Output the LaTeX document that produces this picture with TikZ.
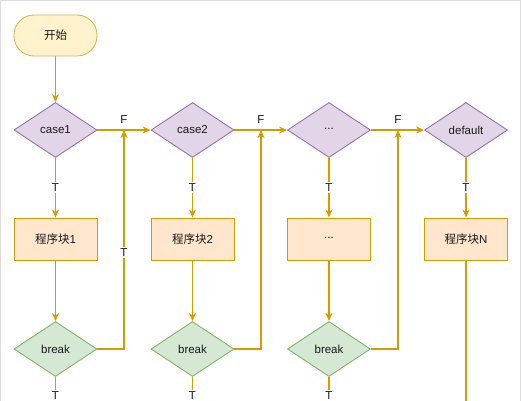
\documentclass[tikz,border=0pt]{standalone}
\usepackage{fontspec}
\setmainfont{Liberation Sans}
\newfontfamily\cjk{Noto Sans CJK SC}
\usetikzlibrary{shapes.geometric,arrows.meta}
\definecolor{edge}{HTML}{D79B00}
\definecolor{startfill}{HTML}{FFF2CC}
\definecolor{startdraw}{HTML}{D6B656}
\definecolor{casefill}{HTML}{E1D5E7}
\definecolor{casedraw}{HTML}{9673A6}
\definecolor{blockfill}{HTML}{FFE6CC}
\definecolor{blockdraw}{HTML}{D79B00}
\definecolor{brkfill}{HTML}{D5E8D4}
\definecolor{brkdraw}{HTML}{82B366}
\definecolor{frame}{HTML}{DDDDDD}
\tikzset{
  every node/.style={font=\fontsize{11.5pt}{13pt}\selectfont, text=black!90},
  startbox/.style={draw=startdraw, fill=startfill, line width=0.9pt, rounded corners=20pt, minimum width=83pt, minimum height=41pt, inner sep=0pt},
  casebox/.style={draw=casedraw, fill=casefill, line width=0.9pt, diamond, aspect=1.51, minimum width=83pt, minimum height=55pt, inner sep=0pt},
  brkbox/.style={draw=brkdraw, fill=brkfill, line width=0.9pt, diamond, aspect=1.51, minimum width=83pt, minimum height=55pt, inner sep=0pt},
  blockbox/.style={draw=blockdraw, fill=blockfill, line width=0.9pt, rectangle, minimum width=83pt, minimum height=42pt, inner sep=0pt},
  conn/.style={draw=edge, line width=1.4pt, -{Stealth[length=8pt,width=7pt,inset=2.5pt]}},
  plain/.style={draw=edge, line width=1.4pt},
  lbl/.style={fill=white, inner sep=1.5pt},
}
\begin{document}
\begin{tikzpicture}[x=1pt,y=-1pt]
\useasboundingbox (0,0) rectangle (521,400);
\draw[frame, line width=1pt] (0.5,410) -- (0.5,0.5) -- (520,0.5) -- (520,410);

\node[startbox] (start) at (55.5,35.5) {{\cjk 开始}};

\node[casebox] (c1) at (55.5,130) {case1};
\node[casebox] (c2) at (192.5,130) {case2};
\node[casebox] (c3) at (329,130) {\raisebox{2pt}{...}};
\node[casebox] (c4) at (466,130) {default};

\node[blockbox] (b1) at (55.5,239) {{\cjk 程序块}1};
\node[blockbox] (b2) at (192.5,239) {{\cjk 程序块}2};
\node[blockbox] (b3) at (329,239) {\raisebox{2pt}{...}};
\node[blockbox] (b4) at (466,239) {{\cjk 程序块}N};

\node[brkbox] (k1) at (55.5,349) {break};
\node[brkbox] (k2) at (192.5,349) {break};
\node[brkbox] (k3) at (329,349) {break};

\coordinate (j1) at (124,130);
\coordinate (j2) at (261,130);
\coordinate (j3) at (398,130);

\coordinate (e1) at (55.5,410);
\coordinate (e2) at (192.5,410);
\coordinate (e3) at (329,410);
\coordinate (e4) at (466,410);

\draw[conn] (start) -- (c1);

\draw[conn] (c1) -- (c2);
\draw[conn] (c2) -- (c3);
\draw[conn] (c3) -- (c4);
\node (f1) at (124,120) {F};
\node (f2) at (261,120) {F};
\node (f3) at (398,120) {F};

\foreach \c/\b in {c1/b1,c2/b2,c3/b3,c4/b4}{
  \draw[conn] (\c) -- (\b) node[lbl, pos=0.5] {T};
}
\foreach \b/\k in {b1/k1,b2/k2,b3/k3}{
  \draw[conn] (\b) -- (\k);
}
\draw[conn] (k1.east) -| (j1) node[lbl, pos=0.72] {T};
\draw[conn] (k2.east) -| (j2);
\draw[conn] (k3.east) -| (j3);

\foreach \k/\e in {k1/e1,k2/e2,k3/e3}{
  \draw[plain] (\k) -- (\e) node[lbl, pos=0.55] {T};
}
\draw[plain] (b4) -- (e4);
\end{tikzpicture}
\end{document}
